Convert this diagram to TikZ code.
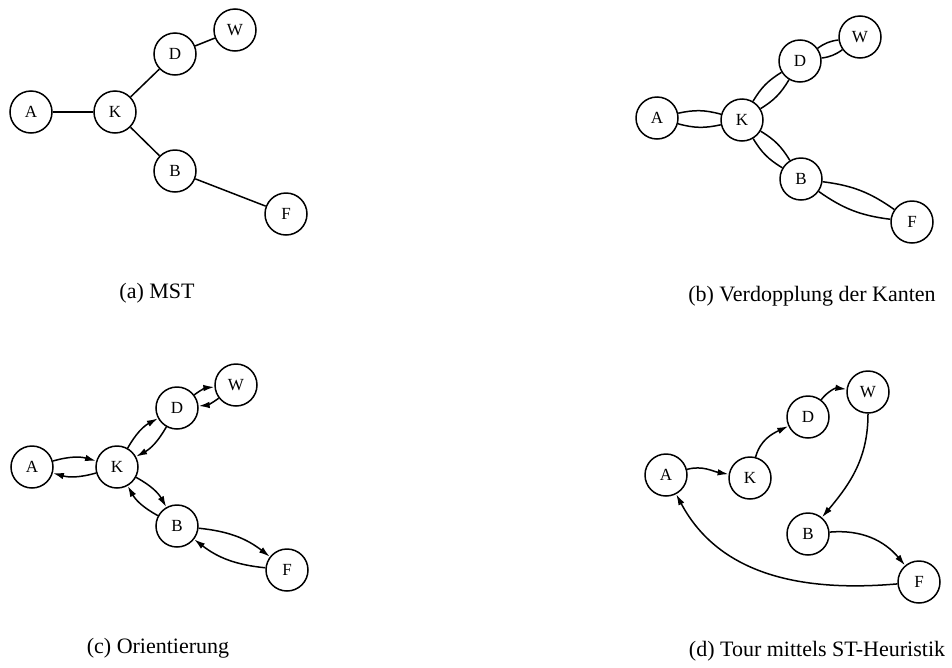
\documentclass[tikz,border=0pt]{standalone}
\usepackage{fontspec}
\setmainfont{Liberation Serif}
\usetikzlibrary{arrows.meta}
\begin{document}
\begin{tikzpicture}[x=1pt,y=-1pt,
  vtx/.style={circle,draw,line width=1.5pt,minimum size=42pt,inner sep=0pt,font=\fontsize{17}{17}\selectfont},
  edge/.style={line width=1.5pt},
  arr/.style={line width=1.5pt,-{Latex[length=11pt,width=6.5pt]}},
  captxt/.style={anchor=base,font=\fontsize{22}{22}\selectfont,inner sep=0pt}]
\useasboundingbox (0,0) rectangle (952,667);
% (a)
\node[vtx] (aA) at (31,112) {A};
\node[vtx] (aK) at (115,112) {K};
\node[vtx] (aD) at (175,54) {D};
\node[vtx] (aW) at (235,30) {W};
\node[vtx] (aB) at (175,171) {B};
\node[vtx] (aF) at (286,214) {F};
\draw[edge] (aA) -- (aK);
\draw[edge] (aK) -- (aD);
\draw[edge] (aD) -- (aW);
\draw[edge] (aK) -- (aB);
\draw[edge] (aB) -- (aF);
\node[captxt] (capa) at (157,298) {(a) MST};
% (b)
\node[vtx] (bA) at (657,118) {A};
\node[vtx] (bK) at (742,120) {K};
\node[vtx] (bD) at (800,61) {D};
\node[vtx] (bW) at (860,37) {W};
\node[vtx] (bB) at (801,179) {B};
\node[vtx] (bF) at (912,222) {F};
\foreach \u/\v in {bA/bK,bK/bD,bD/bW,bK/bB,bB/bF}{
  \draw[edge] (\u) to[bend left=14] (\v);
  \draw[edge] (\u) to[bend right=14] (\v);
}
\node[captxt] (capb) at (812,301) {(b) Verdopplung der Kanten};
% (c)
\node[vtx] (cA) at (32,467) {A};
\node[vtx] (cK) at (117,467) {K};
\node[vtx] (cD) at (177,408) {D};
\node[vtx] (cW) at (236,385) {W};
\node[vtx] (cB) at (177,526) {B};
\node[vtx] (cF) at (287,570) {F};
\foreach \u/\v in {cA/cK,cK/cA,cK/cD,cD/cK,cD/cW,cW/cD,cK/cB,cB/cK,cB/cF,cF/cB}{
  \draw[arr] (\u) to[bend left=16] (\v);
}
\node[captxt] (capc) at (158,653) {(c) Orientierung};
% (d)
\node[vtx] (dA) at (666,475) {A};
\node[vtx] (dK) at (750,478) {K};
\node[vtx] (dD) at (808,417) {D};
\node[vtx] (dW) at (868,392) {W};
\node[vtx] (dB) at (808,534) {B};
\node[vtx] (dF) at (919,582) {F};
\draw[arr] (dA) to[out=15,in=170] (dK);
\draw[arr] (dK) to[out=75,in=205] (dD);
\draw[arr] (dD) to[bend left=30] (dW);
\draw[arr] (dW.south) to[out=-90,in=50] (dB);
\draw[arr] (dB) to[out=5,in=130] (dF);
\draw[arr] (dF) to[out=185,in=-62] (dA);
\node[captxt] (capd) at (817,656) {(d) Tour mittels ST-Heuristik};
\end{tikzpicture}
\end{document}
